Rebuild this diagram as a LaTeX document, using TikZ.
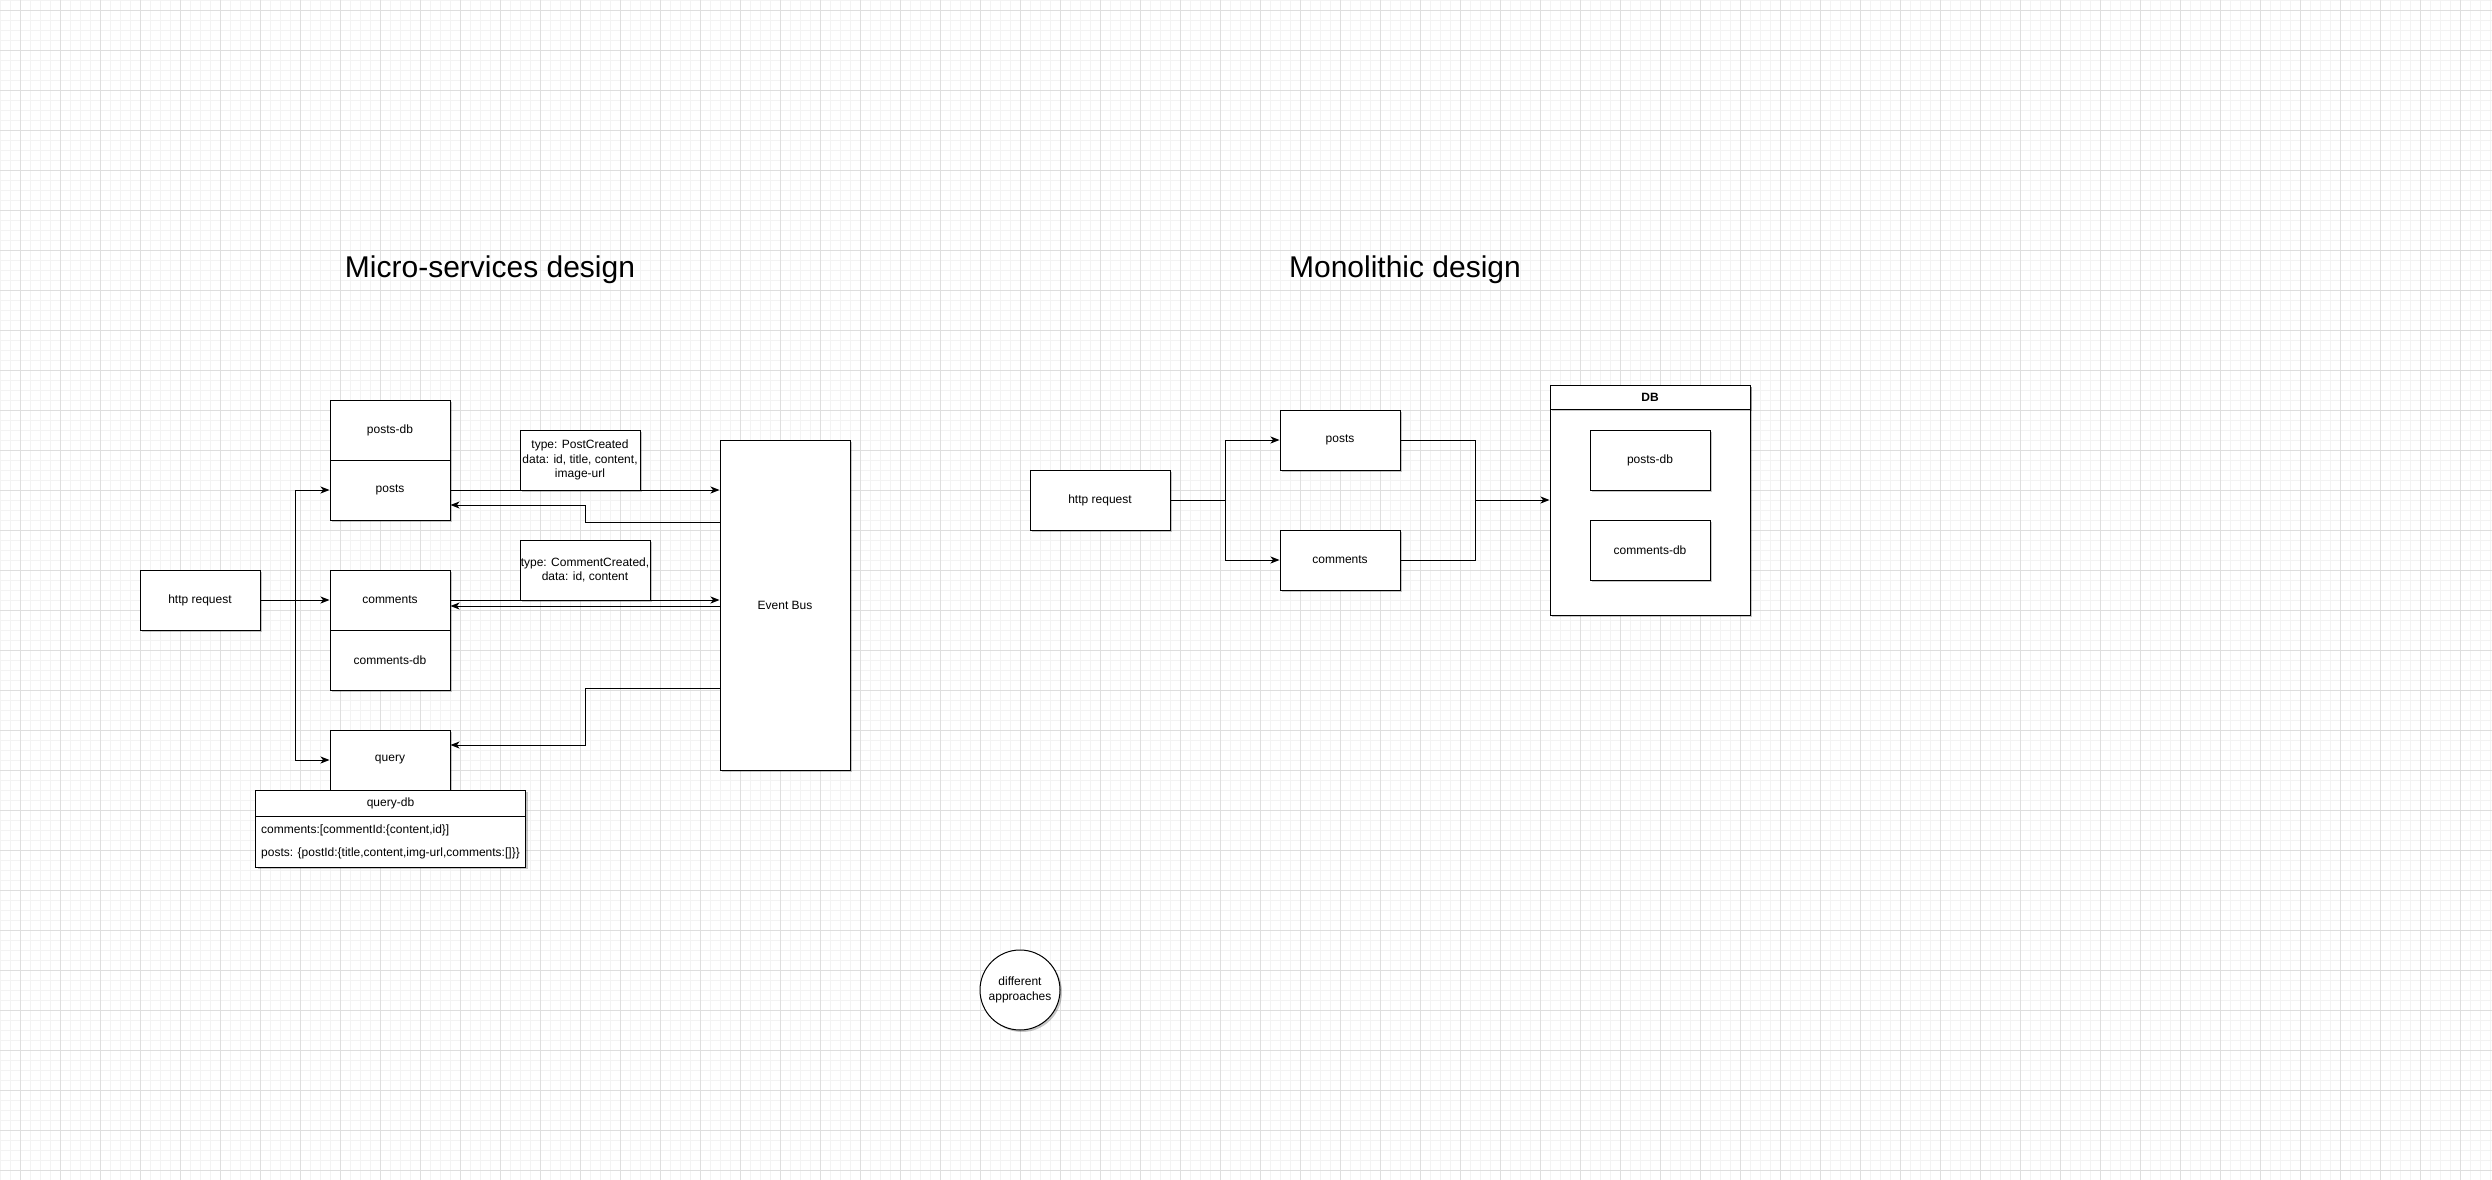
\documentclass[tikz,border=0pt]{standalone}
\usepackage{fontspec}
\setmainfont{Liberation Sans}
\usetikzlibrary{arrows.meta,shadows}
\definecolor{gridminor}{RGB}{243,243,243}
\definecolor{gridmajor}{RGB}{222,222,222}
\tikzset{
  shadowed/.style={drop shadow={shadow xshift=2pt,shadow yshift=-2pt,opacity=0.22,fill=black}},
  box/.style={draw=black,line width=1pt,fill=white,inner sep=0pt,align=center,
    font=\fontsize{12}{14.4}\selectfont,shadowed},
  rowlbl/.style={font=\fontsize{12}{14.4}\selectfont,inner sep=0pt,anchor=west},
  titletext/.style={font=\fontsize{30}{36}\selectfont,inner sep=0pt,anchor=base},
  conn/.style={line width=1pt,draw=black},
  arr/.style={conn,-{Stealth[length=9pt,width=7pt,inset=2.5pt]}},
}
\begin{document}
\begin{tikzpicture}[x=1pt,y=-1pt]
\useasboundingbox (0,0) rectangle (2492,1180);
\fill[white] (0,0) rectangle (2492,1180);
% grid
\foreach \i in {0,10,...,2490} \draw[gridminor,line width=0.8pt] (\i,0) -- (\i,1180);
\foreach \j in {0,10,...,1180} \draw[gridminor,line width=0.8pt] (0,\j) -- (2492,\j);
\foreach \i in {20,60,...,2480} \draw[gridmajor,line width=0.8pt] (\i,0) -- (\i,1180);
\foreach \j in {10,50,...,1170} \draw[gridmajor,line width=0.8pt] (0,\j) -- (2492,\j);

% titles
\node[titletext] (t1) at (490,277) {Micro-services design};
\node[titletext] (t2) at (1405,277) {Monolithic design};

% ---------- micro-services ----------
\node[box,minimum width=120,minimum height=60] (postsdb) at (390,430) {posts-db};
\node[box,minimum width=120,minimum height=60] (posts) at (390,490) {posts};
\node[box,minimum width=120,minimum height=60] (comments) at (390,600) {comments};
\node[box,minimum width=120,minimum height=60] (commentsdb) at (390,660) {comments-db};
\node[box,minimum width=120,minimum height=60] (query) at (390,760) {query};
\node[box,minimum width=270,minimum height=26] (qdbh) at (390.5,803) {query-db};
\node[box,minimum width=270,minimum height=51] (qdb) at (390.5,841.5) {};
\node[rowlbl] (r1) at (261,830) {comments:[commentId:\{content,id\}]};
\node[rowlbl] (r2) at (261,853) {posts: \{postId:\{title,content,img-url,comments:[]\}\}};
\node[box,minimum width=120,minimum height=60] (http) at (200,600) {http request};
\node[box,minimum width=130,minimum height=330] (bus) at (785,605) {Event Bus};
\node[box,minimum width=120,minimum height=60] (pc) at (580,460) {type: PostCreated\\data: id, title, content,\\image-url};
\node[box,minimum width=130,minimum height=60] (cc) at (585,570) {type: CommentCreated,\\data: id, content};

\coordinate (br) at (295.5,600);
\draw[arr] (http.east) -- (comments.west);
\draw[arr] (br) |- (posts.west);
\draw[arr] (br) |- (query.west);
\draw[arr] (posts.east) -- (posts.east -| bus.west);
\coordinate (bp1) at (720,522);
\coordinate (bp2) at (585.5,505);
\draw[arr] (bp1) -| (bp2) -- (bp2 -| posts.east);
\draw[arr] (comments.east) -- (comments.east -| bus.west);
\coordinate (bc) at (720,606);
\draw[arr] (bc) -- (bc -| comments.east);
\coordinate (bq1) at (720,688);
\coordinate (bq2) at (585.5,745);
\draw[arr] (bq1) -| (bq2) -- (bq2 -| query.east);

% ---------- monolithic ----------
\node[box,minimum width=140,minimum height=60] (mhttp) at (1100,500) {http request};
\node[box,minimum width=120,minimum height=60] (mposts) at (1340,440) {posts};
\node[box,minimum width=120,minimum height=60] (mcomments) at (1340,560) {comments};
\node[box,minimum width=200,minimum height=230] (db) at (1650,500) {};
\node[box,minimum width=200,minimum height=24,font=\fontsize{12}{14.4}\selectfont\bfseries] (dbh) at (1650,397) {DB};
\node[box,minimum width=120,minimum height=60] (mpostsdb) at (1650,460) {posts-db};
\node[box,minimum width=120,minimum height=60] (mcommentsdb) at (1650,550) {comments-db};

\coordinate (mb) at (1225,500);
\coordinate (mm) at (1475,500);
\draw[conn] (mhttp.east) -- (mb);
\draw[arr] (mb) |- (mposts.west);
\draw[arr] (mb) |- (mcomments.west);
\draw[conn] (mposts.east) -| (mm);
\draw[conn] (mcomments.east) -| (mm);
\draw[arr] (mm) -- (db.west);

% circle
\node[box,circle,minimum size=80,font=\fontsize{12}{15}\selectfont] (circ) at (1020,990) {different\\approaches};
\end{tikzpicture}
\end{document}
